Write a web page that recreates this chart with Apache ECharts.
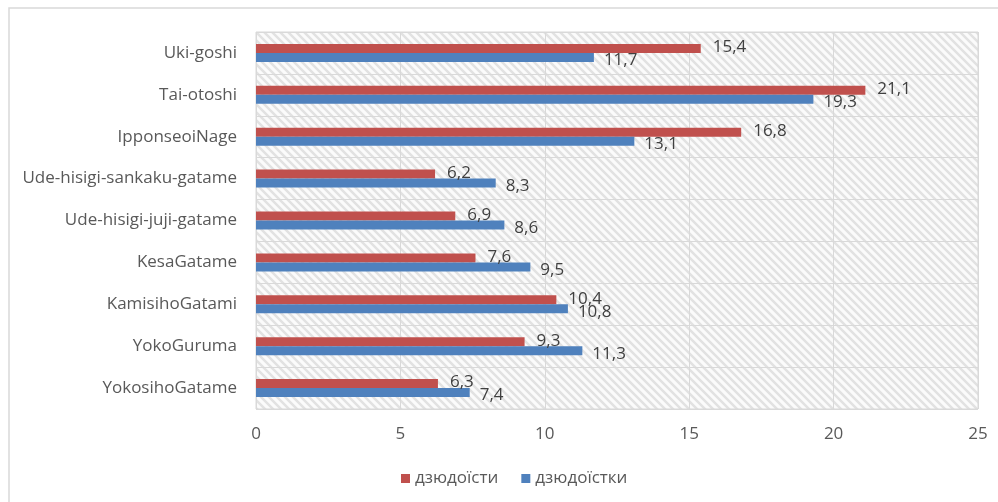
<!DOCTYPE html>
<html>
<head>
<meta charset="utf-8">
<script src="https://cdn.jsdelivr.net/npm/echarts@6/dist/echarts.min.js"></script>
<style>
  html, body { margin: 0; padding: 0; background: #fff; }
  #chart { width: 998px; height: 502px; }
</style>
</head>
<body>
<div id="chart"></div>
<script>
const categories = [
  'Uki-goshi', 'Tai-otoshi', 'IpponseoiNage', 'Ude-hisigi-sankaku-gatame',
  'Ude-hisigi-juji-gatame', 'KesaGatame', 'KamisihoGatami', 'YokoGuruma', 'YokosihoGatame'
]
const men = [15.4, 21.1, 16.8, 6.2, 6.9, 7.6, 10.4, 9.3, 6.3]
const women = [11.7, 19.3, 13.1, 8.3, 8.6, 9.5, 10.8, 11.3, 7.4]
const seriesNames = ['дзюдоїсти', 'дзюдоїстки']

// diagonal hatch for the plot background
function hatch() {
  const c = document.createElement('canvas')
  c.width = 8
  c.height = 8
  const ctx = c.getContext('2d')
  ctx.fillStyle = '#fbfbfb'
  ctx.fillRect(0, 0, 8, 8)
  ctx.strokeStyle = '#e2e2e2'
  ctx.lineWidth = 2.5
  ctx.beginPath()
  ctx.moveTo(-2, -2); ctx.lineTo(10, 10)
  ctx.moveTo(-2, 6); ctx.lineTo(2, 10)
  ctx.moveTo(6, -2); ctx.lineTo(10, 2)
  ctx.stroke()
  return c
}

const txt = '#595959'
const font = '"Open Sans", sans-serif'
const fs = 17
const fmt = p => String(p.value).replace('.', ',')

const chart = echarts.init(document.getElementById('chart'))
chart.setOption({
  animation: false,
  textStyle: { fontFamily: font },
  graphic: [{
    type: 'rect',
    shape: { x: 9, y: 8, width: 1100, height: 600 },
    style: { fill: 'none', stroke: '#d9d9d9', lineWidth: 1.5 },
    silent: true
  }],
  legend: {
    data: seriesNames,
    top: 465,
    left: 396,
    icon: 'rect',
    itemWidth: 9,
    itemHeight: 9,
    itemGap: 23,
    textStyle: { color: txt, fontSize: fs, fontFamily: font }
  },
  grid: {
    left: 256, right: 20, top: 32, bottom: 93,
    show: true,
    backgroundColor: { image: hatch(), repeat: 'repeat' },
    borderColor: '#d9d9d9',
    borderWidth: 1
  },
  xAxis: {
    type: 'value',
    min: 0, max: 25, interval: 5,
    axisLine: { show: false },
    axisTick: { show: false },
    splitLine: { lineStyle: { color: '#d9d9d9', width: 1 } },
    axisLabel: { color: txt, fontSize: fs, margin: 17, fontFamily: font }
  },
  yAxis: {
    type: 'category',
    data: categories,
    inverse: true,
    axisLine: { show: false },
    axisTick: { show: false },
    splitLine: { show: true, lineStyle: { color: '#d9d9d9', width: 1 } },
    axisLabel: { color: txt, fontSize: fs, margin: 19, fontFamily: font }
  },
  series: [
    {
      name: seriesNames[0],
      type: 'bar',
      data: men,
      barWidth: 9,
      barGap: '0%',
      itemStyle: { color: '#c0504d' },
      label: {
        show: true, position: 'right', distance: 12, offset: [0, -1],
        color: '#404040', fontSize: fs, fontFamily: font, formatter: fmt
      }
    },
    {
      name: seriesNames[1],
      type: 'bar',
      data: women,
      barWidth: 9,
      barGap: '0%',
      itemStyle: { color: '#4f81bd' },
      label: {
        show: true, position: 'right', distance: 10, offset: [0, 3],
        color: '#404040', fontSize: fs, fontFamily: font, formatter: fmt
      }
    }
  ]
})
</script>
</body>
</html>
